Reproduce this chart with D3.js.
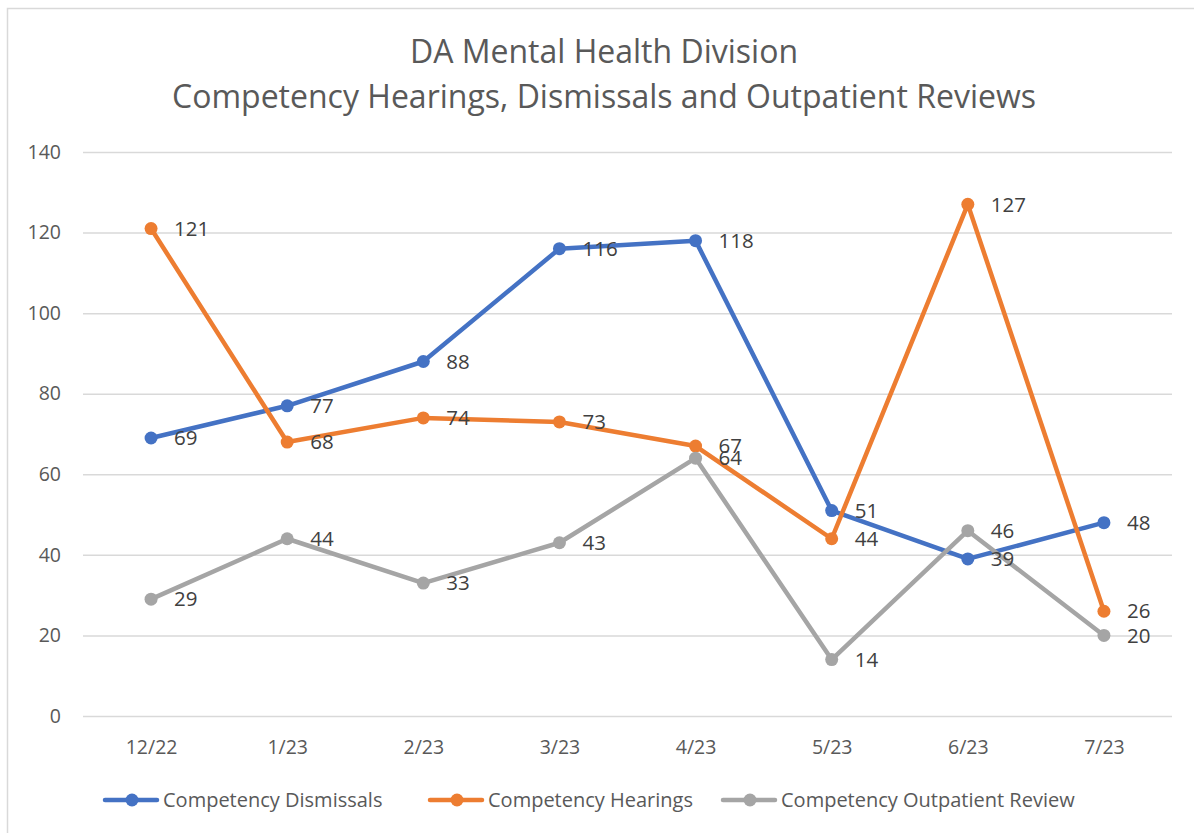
<!DOCTYPE html>
<html>
<head>
  <meta charset='utf-8'>
  <title>DA Mental Health Division</title>
  <script src='https://cdnjs.cloudflare.com/ajax/libs/d3/7.8.5/d3.min.js'></script>
  <style>
    body { margin: 0; background: #fff; }
    text { font-family: 'Open Sans', 'Noto Sans', sans-serif; }
  </style>
</head>
<body>
  <svg id='chart' width='1194' height='833'></svg>
  <script>
    const months = ['12/22', '1/23', '2/23', '3/23', '4/23', '5/23', '6/23', '7/23'];
    const dismissals = [69, 77, 88, 116, 118, 51, 39, 48];
    const hearings = [121, 68, 74, 73, 67, 44, 127, 26];
    const outpatient = [29, 44, 33, 43, 64, 14, 46, 20];
    const yTicks = [0, 20, 40, 60, 80, 100, 120, 140];

    const series = [
        { name: 'Competency Dismissals', values: dismissals, color: '#4472c4' },
        { name: 'Competency Hearings', values: hearings, color: '#ed7d31' },
        { name: 'Competency Outpatient Review', values: outpatient, color: '#a5a5a5' }
    ];

    const svg = d3.select('#chart');
    // chart border (runs off right and bottom like the source)
    svg.append('rect')
        .attr('x', 7.5).attr('y', 8.5)
        .attr('width', 1200).attr('height', 840)
        .attr('fill', '#fff')
        .attr('stroke', '#d9d9d9')
        .attr('stroke-width', 1.5);

    const plot = { left: 83, right: 1172, top: 152, bottom: 716 };
    const x = d3.scalePoint().domain(months).range([plot.left, plot.right]).padding(0.5);
    const y = d3.scaleLinear().domain([0, 140]).range([plot.bottom, plot.top]);

    // title
    const title = svg.append('text')
        .attr('text-anchor', 'middle')
        .attr('fill', '#595959')
        .attr('font-size', 32);
    title.append('tspan').attr('x', 604).attr('y', 63).text('DA Mental Health Division');
    title.append('tspan').attr('x', 604).attr('y', 108).text('Competency Hearings, Dismissals and Outpatient Reviews');

    // gridlines
    const grid = svg.append('g')
        .attr('transform', `translate(${plot.left},0)`)
        .call(d3.axisLeft(y).tickValues(yTicks).tickSize(-(plot.right - plot.left)).tickFormat(''));
    grid.select('.domain').remove();
    grid.selectAll('line').attr('stroke', '#d9d9d9').attr('stroke-width', 1.5);

    // y labels
    const yAxis = svg.append('g')
        .attr('transform', `translate(${plot.left - 22},0)`)
        .call(d3.axisLeft(y).tickValues(yTicks).tickSize(0).tickPadding(0));
    yAxis.select('.domain').remove();
    yAxis.selectAll('text').attr('fill', '#595959').attr('font-size', 19.5)
        .style('font-family', "'Open Sans', sans-serif");

    // x labels
    const xAxis = svg.append('g')
        .attr('transform', `translate(0,${plot.bottom + 31})`)
        .call(d3.axisBottom(x).tickSize(0).tickPadding(0));
    xAxis.select('.domain').remove();
    xAxis.selectAll('text').attr('fill', '#595959').attr('font-size', 19.5)
        .attr('dy', '0.35em')
        .style('font-family', "'Open Sans', sans-serif");

    const line = d3.line()
        .x((d, i) => x(months[i]))
        .y((d) => y(d));

    series.forEach((s) => {
        const g = svg.append('g');
        g.append('path')
            .datum(s.values)
            .attr('fill', 'none')
            .attr('stroke', s.color)
            .attr('stroke-width', 4.5)
            .attr('stroke-linejoin', 'round')
            .attr('stroke-linecap', 'round')
            .attr('d', line);
        g.selectAll('circle')
            .data(s.values)
            .join('circle')
            .attr('cx', (d, i) => x(months[i]))
            .attr('cy', (d) => y(d))
            .attr('r', 6.5)
            .attr('fill', s.color);
    });

    // data labels
    series.forEach((s) => {
        svg.append('g').selectAll('text')
            .data(s.values)
            .join('text')
            .attr('x', (d, i) => x(months[i]) + 23)
            .attr('y', (d) => y(d))
            .attr('dy', '0.35em')
            .attr('fill', '#404040')
            .attr('font-size', 20.5)
            .text((d) => d);
    });

    // legend
    const legendX = [105, 430, 723];
    series.forEach((s, i) => {
        const lg = svg.append('g').attr('transform', `translate(${legendX[i]},800)`);
        lg.append('line')
            .attr('x1', 0).attr('x2', 52)
            .attr('stroke', s.color).attr('stroke-width', 4.5)
            .attr('stroke-linecap', 'round');
        lg.append('circle').attr('cx', 27).attr('r', 6.5).attr('fill', s.color);
        lg.append('text')
            .attr('x', 58).attr('dy', '0.35em')
            .attr('fill', '#595959').attr('font-size', 20)
            .text(s.name);
    });
  </script>
</body>
</html>
